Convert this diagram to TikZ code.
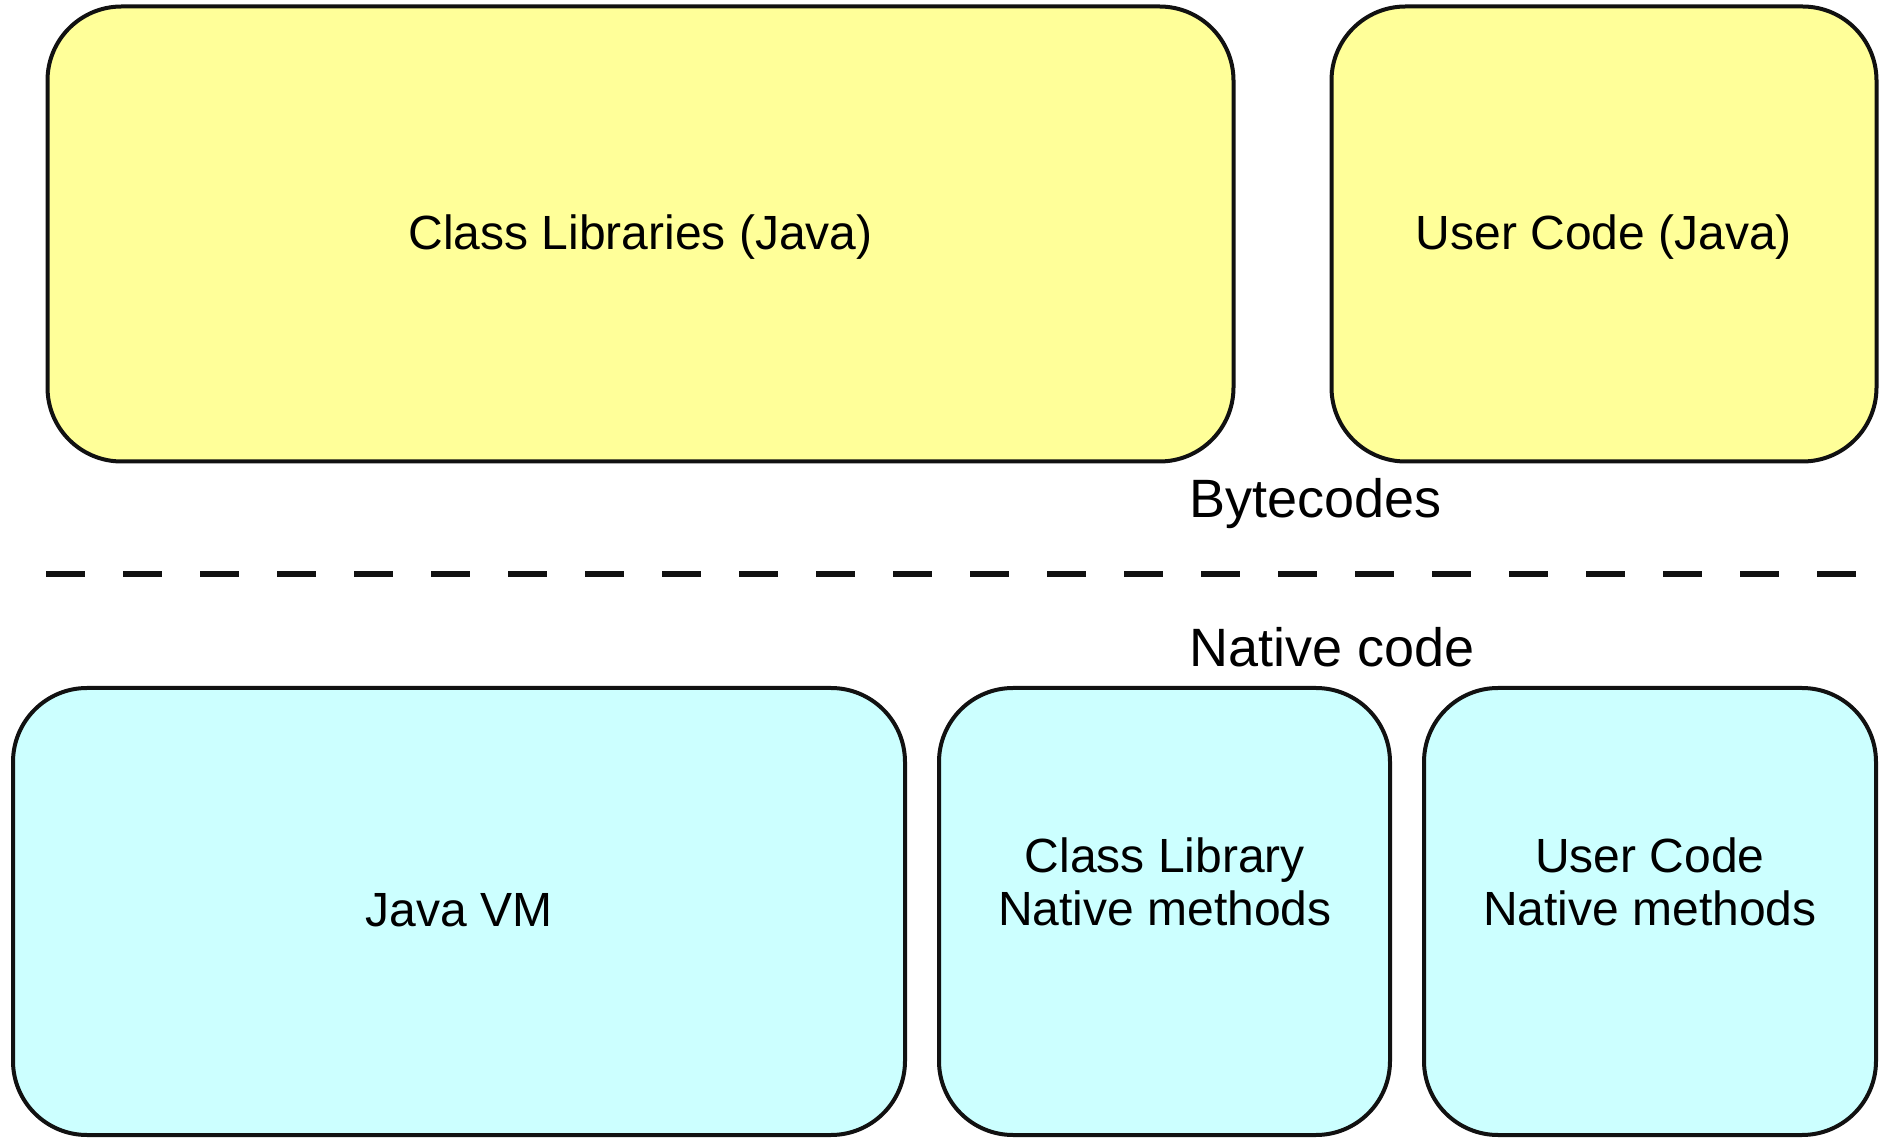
\documentclass[tikz,border=0pt]{standalone}
\usepackage{fontspec}
\setmainfont{Liberation Sans}
\definecolor{byellow}{HTML}{FFFF99}
\definecolor{bcyan}{HTML}{CCFFFF}
\definecolor{bline}{HTML}{111111}
\begin{document}
\begin{tikzpicture}[x=0.5pt,y=-0.5pt,
  box/.style={draw=bline, line width=2pt, rounded corners=37pt, inner sep=0pt},
  ybox/.style={box, fill=byellow},
  cbox/.style={box, fill=bcyan},
  boxtext/.style={inner sep=0pt, font=\fontsize{24pt}{26.5pt}\selectfont, anchor=base, align=center},
  lbltext/.style={inner sep=0pt, font=\fontsize{27pt}{30pt}\selectfont, anchor=base west},
  sep/.style={draw=bline, line width=3pt, dash pattern=on 19.5pt off 19pt}]
\useasboundingbox[fill=white] (0,0) rectangle (1886,1143);
% top boxes
\node[ybox, minimum width=593pt, minimum height=227.5pt] (cl) at (640.5,234) {};
\node[ybox, minimum width=272.5pt, minimum height=227.5pt] (uc) at (1604,234) {};
% bottom boxes
\node[cbox, minimum width=446pt, minimum height=223.5pt] (jvm) at (459,911.5) {};
\node[cbox, minimum width=225.5pt, minimum height=223.5pt] (cln) at (1164.5,911.5) {};
\node[cbox, minimum width=226pt, minimum height=223.5pt] (ucn) at (1650,911.5) {};
% texts
\node[boxtext] (clt) at (640.5,250) {Class Libraries (Java)};
\node[boxtext] (uct) at (1604,250) {User Code (Java)};
\node[boxtext] (jvmt) at (459,927) {Java VM};
\node[boxtext] (clnt) at (1165,926) {Class Library\\Native methods};
\node[boxtext] (ucnt) at (1650,926) {User Code\\Native methods};
% labels
\node[lbltext] (bc) at (1189,518) {Bytecodes};
\node[lbltext] (nc) at (1189,667) {Native code};
% separator
\coordinate (dl) at (46,574);
\coordinate (dr) at (1856,574);
\draw[sep] (dl) -- (dr);
\end{tikzpicture}
\end{document}
